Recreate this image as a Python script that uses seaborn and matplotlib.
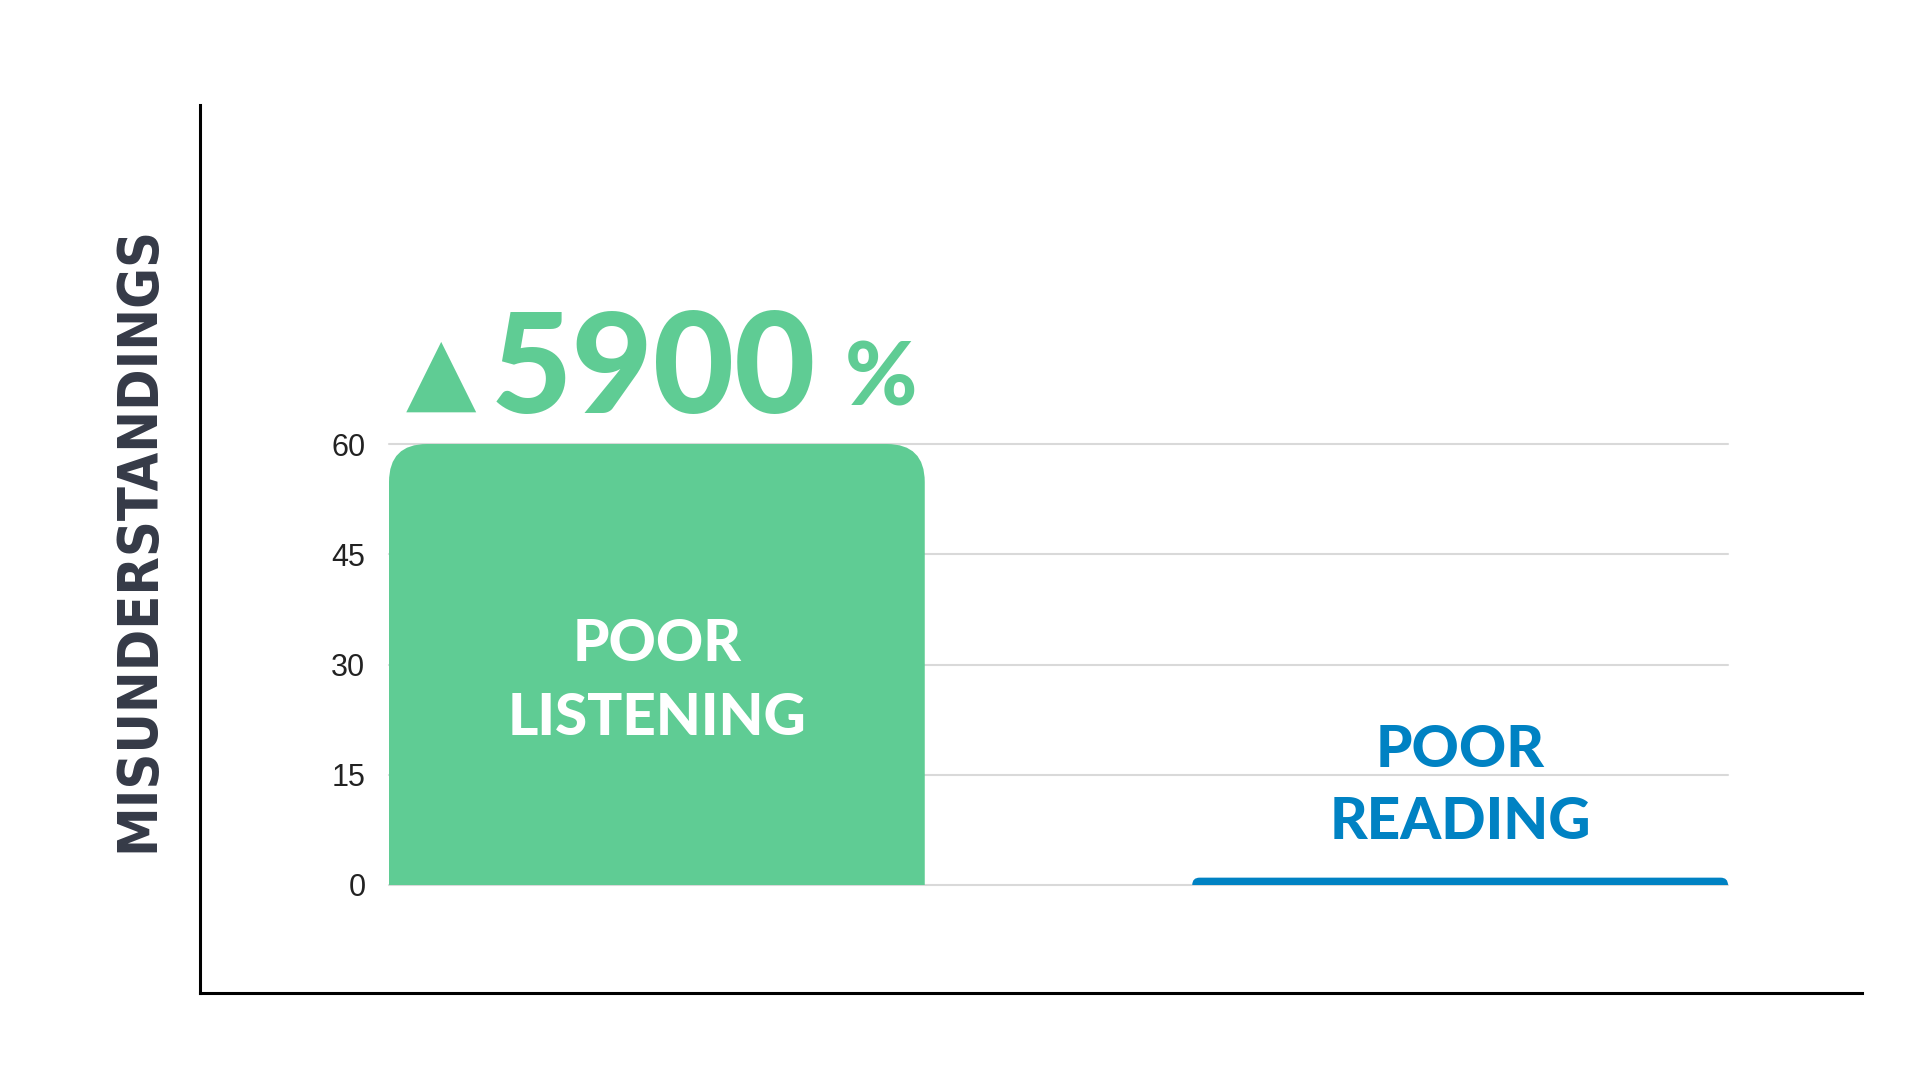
import matplotlib
matplotlib.use("Agg")
import matplotlib.pyplot as plt
from matplotlib.patches import FancyBboxPatch
import seaborn as sns
import pandas as pd

# ---- data ----
categories = ["POOR\nLISTENING", "POOR\nREADING"]
values = [60, 1]
bar_colors = ["#5FCC94", "#0082C3"]
yticks = [0, 15, 30, 45, 60]
y_label = "MISUNDERSTANDINGS"
change_text = "5900"

sns.set_theme(style="white")
plt.rcParams["font.family"] = ["Liberation Sans", "DejaVu Sans"]

W, H = 1920, 1080
fig = plt.figure(figsize=(19.2, 10.8), dpi=100)
fig.patch.set_facecolor("white")

# outer L-shaped frame
frame = fig.add_axes([200 / W, 1 - 993 / H, (1862 - 200) / W, (993 - 105) / H])
frame.set_facecolor("none")
for s in ["top", "right"]:
    frame.spines[s].set_visible(False)
for s in ["left", "bottom"]:
    frame.spines[s].set_color("black")
    frame.spines[s].set_linewidth(2.2)
frame.set_xticks([])
frame.set_yticks([])

# main plotting axes
ax_l, ax_b, ax_w, ax_h = 389 / W, 1 - 885 / H, (1728 - 389) / W, (885 - 444) / H
ax = fig.add_axes([ax_l, ax_b, ax_w, ax_h])
ax.set_facecolor("none")

df = pd.DataFrame({"cat": categories, "val": values})
sns.barplot(data=df, x="cat", y="val", hue="cat", palette=bar_colors,
            legend=False, width=0.667, ax=ax, saturation=1)

xlim = (-0.3335, 1.3335)
ylim = (0, 60)
ax.set_xlim(*xlim)
ax.set_ylim(*ylim)
ax.set_yticks(yticks)
ax.set_yticklabels([str(t) for t in yticks])
ax.set_xticks([])
ax.set_xlabel("")
ax.set_ylabel("")
for s in ax.spines.values():
    s.set_visible(False)
ax.set_axisbelow(True)
ax.yaxis.grid(True, color="#D9D9D9", linewidth=1.5)
ax.tick_params(axis="y", length=0, pad=17, labelsize=22, labelcolor="#222222")
for gl in ax.yaxis.get_gridlines():
    gl.set_clip_on(False)

# rounded-top bars
px_per_x = ax_w * W / (xlim[1] - xlim[0])
px_per_y = ax_h * H / (ylim[1] - ylim[0])
aspect = (1 / px_per_y) / (1 / px_per_x)
for p, col in zip(list(ax.patches), bar_colors):
    x0, w, h = p.get_x(), p.get_width(), p.get_height()
    p.set_visible(False)
    r_px = min(38, h * px_per_y)
    r_x = r_px / px_per_x
    r_y = r_px / px_per_y
    fb = FancyBboxPatch((x0, -r_y), w, h + r_y,
                        boxstyle=f"round,pad=0,rounding_size={r_x}",
                        mutation_aspect=aspect, facecolor=col,
                        edgecolor="none", zorder=3)
    ax.add_patch(fb)

def px2x(px):
    return xlim[0] + (px - 389) / px_per_x

def py2y(py):
    return (885 - py) / px_per_y

bold = dict(family=["Lato Black", "Lato", "DejaVu Sans"], fontweight="black")

# labels inside / above bars
ax.text(0, py2y(661), "POOR", color="white", ha="center", va="baseline",
        fontsize=42, zorder=5, **bold)
ax.text(0, py2y(735), "LISTENING", color="white", ha="center", va="baseline",
        fontsize=42, zorder=5, **bold)
ax.text(1, py2y(767), "POOR", color=bar_colors[1], ha="center", va="baseline",
        fontsize=42, zorder=5, clip_on=False, **bold)
ax.text(1, py2y(839), "READING", color=bar_colors[1], ha="center", va="baseline",
        fontsize=42, zorder=5, clip_on=False, **bold)

# big change indicator
ax.text(px2x(441), py2y(401), "\u25B2", color=bar_colors[0], ha="center",
        va="baseline", fontsize=66, family=["DejaVu Sans"], clip_on=False)
ax.text(px2x(491), py2y(413), change_text, color=bar_colors[0], ha="left",
        va="baseline", fontsize=101, clip_on=False, **bold)
ax.text(px2x(845), py2y(406), "%", color=bar_colors[0], ha="left",
        va="baseline", fontsize=63, clip_on=False, **bold)

# y label
fig.text(138 / W, 1 - 539 / H, y_label, rotation=90, ha="center", va="center",
         fontsize=40, color="#353A47",
         family=["DejaVu Sans Condensed", "Liberation Sans Narrow", "DejaVu Sans"],
         fontweight="bold", fontstretch="condensed")

fig.savefig("out.png", dpi=100, facecolor="white")
